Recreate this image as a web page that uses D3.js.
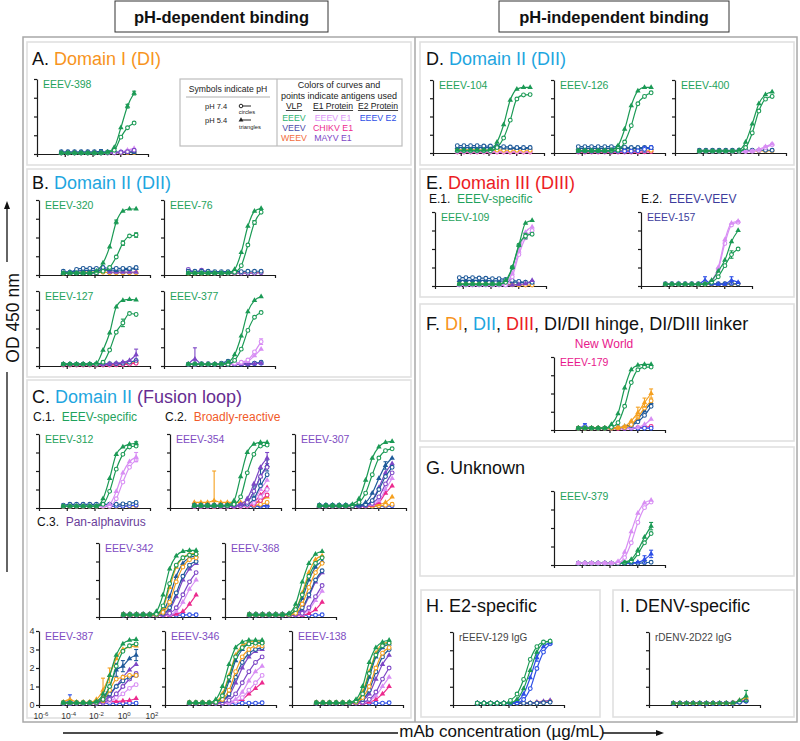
<!DOCTYPE html>
<html><head><meta charset="utf-8">
<script src="https://cdn.jsdelivr.net/npm/d3@7"></script>
<style>body{margin:0;background:#fff} svg{display:block;font-family:"Liberation Sans",Arial,Helvetica,sans-serif} text{white-space:pre}</style>
</head><body>
<svg id="fig" width="800" height="741"></svg>
<script>
// ---------------- DATA ----------------
// mAb concentrations (µg/mL), 3-fold dilutions, low -> high
const conc = [0.0000565, 0.000169, 0.000508, 0.00152, 0.00457, 0.0137, 0.0412, 0.123, 0.37, 1.11, 3.33, 10];
const xTicks = [1e-6, 1e-4, 1e-2, 1, 100];
const xTickExp = ["-6", "-4", "-2", "0", "2"];
const yTicks = [0, 1, 2, 3, 4];
const antigens = ["EEEV", "VEEV", "WEEV", "EEEV_E1", "CHIKV_E1", "MAYV_E1", "EEEV_E2"];

const eeev398 = [
 {ag:"WEEV",ph:"7.4",v:[0.06,0.06,0.06,0.06,0.06,0.06,0.06,0.06,0.06,0.07,0.08,0.08]},
 {ag:"VEEV",ph:"7.4",v:[0.12,0.12,0.12,0.12,0.12,0.12,0.13,0.11,0.11,0.11,0.12,0.12],e:{6:0.1}},
 {ag:"VEEV",ph:"5.4",v:[0.08,0.08,0.08,0.08,0.08,0.08,0.08,0.08,0.08,0.08,0.09,0.1]},
 {ag:"EEEV_E1",ph:"5.4",v:[0.05,0.05,0.05,0.05,0.05,0.05,0.05,0.05,0.08,0.12,0.2,0.3]},
 {ag:"MAYV_E1",ph:"7.4",v:[0.05,0.05,0.05,0.05,0.05,0.05,0.05,0.05,0.06,0.08,0.12,0.2]},
 {ag:"EEEV",ph:"7.4",v:[0.05,0.05,0.05,0.05,0.05,0.05,0.05,0.08,0.2,0.9,1.4,1.65]},
 {ag:"EEEV",ph:"5.4",v:[0.05,0.05,0.05,0.05,0.05,0.05,0.06,0.1,0.35,1.4,2.55,3.25],e:{11:0.1,10:0.1}}
];
const eeev320 = [
 {ag:"WEEV",ph:"7.4",v:[0.1,0.1,0.15,0.15,0.15,0.15,0.15,0.12,0.12,0.12,0.12,0.12]},
 {ag:"MAYV_E1",ph:"5.4",v:[0.08,0.08,0.1,0.1,0.1,0.1,0.4,0.15,0.15,0.15,0.15,0.15]},
 {ag:"VEEV",ph:"5.4",v:[0.15,0.15,0.2,0.25,0.25,0.25,0.28,0.28,0.25,0.28,0.3,0.35]},
 {ag:"VEEV",ph:"7.4",v:[0.2,0.15,0.3,0.35,0.35,0.35,0.4,0.35,0.35,0.35,0.35,0.4]},
 {ag:"EEEV",ph:"7.4",v:[0.1,0.1,0.1,0.1,0.1,0.12,0.2,0.4,0.96,1.7,2.08,2.13],e:{9:0.12,11:0.12}},
 {ag:"EEEV",ph:"5.4",v:[0.1,0.1,0.1,0.1,0.1,0.2,0.64,1.5,2.83,3.41,3.52,3.52],e:{8:0.1}}
];
const eeev76 = [
 {ag:"WEEV",ph:"7.4",v:[0.1,0.1,0.1,0.1,0.1,0.1,0.1,0.1,0.12,0.12,0.12,0.15]},
 {ag:"MAYV_E1",ph:"7.4",v:[0.3,0.15,0.25,0.15,0.1,0.1,0.1,0.1,0.1,0.1,0.1,0.12]},
 {ag:"VEEV",ph:"7.4",v:[0.2,0.2,0.2,0.2,0.18,0.18,0.18,0.18,0.18,0.2,0.2,0.2]},
 {ag:"EEEV",ph:"7.4",v:[0.1,0.1,0.1,0.1,0.1,0.1,0.1,0.15,0.5,1.6,2.8,3.35],e:{10:0.1}},
 {ag:"EEEV",ph:"5.4",v:[0.1,0.1,0.1,0.1,0.1,0.1,0.12,0.3,1.2,2.6,3.4,3.55]}
];
const eeev127 = [
 {ag:"WEEV",ph:"7.4",v:[0.08,0.08,0.08,0.08,0.08,0.08,0.08,0.08,0.1,0.12,0.15,0.2]},
 {ag:"CHIKV_E1",ph:"7.4",v:[0.05,0.05,0.05,0.05,0.05,0.05,0.05,0.05,0.06,0.08,0.1,0.15]},
 {ag:"VEEV",ph:"7.4",v:[0.1,0.1,0.1,0.1,0.1,0.1,0.1,0.12,0.12,0.15,0.2,0.3]},
 {ag:"MAYV_E1",ph:"5.4",v:[0.1,0.1,0.1,0.1,0.1,0.1,0.1,0.12,0.15,0.2,0.3,0.6],e:{11:0.3}},
 {ag:"EEEV",ph:"7.4",v:[0.1,0.1,0.1,0.1,0.1,0.1,0.2,0.85,1.8,2.3,2.8,2.75],e:{9:0.2}},
 {ag:"EEEV",ph:"5.4",v:[0.1,0.1,0.1,0.1,0.1,0.15,0.85,1.76,3.15,3.5,3.55,3.52]}
];
const eeev377 = [
 {ag:"EEEV_E2",ph:"7.4",v:[0.1,0.1,0.1,0.1,0.1,0.1,0.1,0.1,0.1,0.1,0.12,0.15]},
 {ag:"VEEV",ph:"7.4",v:[0.1,0.12,0.12,0.12,0.1,0.15,0.25,0.12,0.12,0.12,0.15,0.2]},
 {ag:"MAYV_E1",ph:"5.4",v:[0.1,0.37,0.1,0.1,0.1,0.1,0.1,0.1,0.1,0.1,0.12,0.15],e:{1:0.6}},
 {ag:"EEEV_E1",ph:"5.4",v:[0.1,0.1,0.1,0.1,0.1,0.1,0.1,0.12,0.15,0.25,0.55,0.9]},
 {ag:"EEEV_E1",ph:"7.4",v:[0.1,0.1,0.1,0.1,0.1,0.1,0.1,0.15,0.2,0.32,0.75,1.3],e:{11:0.15}},
 {ag:"EEEV",ph:"7.4",v:[0.1,0.1,0.1,0.1,0.1,0.1,0.1,0.3,0.9,1.9,2.6,2.85]},
 {ag:"EEEV",ph:"5.4",v:[0.1,0.1,0.1,0.1,0.1,0.1,0.2,0.6,1.6,2.9,3.5,3.7]}
];
const eeev312 = [
 {ag:"WEEV",ph:"7.4",v:[0.08,0.08,0.08,0.08,0.08,0.08,0.08,0.08,0.08,0.1,0.1,0.12]},
 {ag:"EEEV_E2",ph:"7.4",v:[0.1,0.1,0.1,0.1,0.1,0.1,0.1,0.1,0.1,0.1,0.12,0.15]},
 {ag:"VEEV",ph:"7.4",v:[0.15,0.2,0.2,0.2,0.2,0.2,0.2,0.2,0.2,0.22,0.25,0.3]},
 {ag:"EEEV_E1",ph:"7.4",v:[0.1,0.1,0.1,0.1,0.1,0.1,0.1,0.1,0.5,1.4,2.2,2.6]},
 {ag:"EEEV_E1",ph:"5.4",v:[0.1,0.1,0.1,0.1,0.1,0.1,0.1,0.2,0.9,1.9,2.5,2.75],e:{11:0.25}},
 {ag:"EEEV",ph:"7.4",v:[0.1,0.1,0.1,0.1,0.1,0.1,0.2,0.9,2.1,2.9,3.3,3.35]},
 {ag:"EEEV",ph:"5.4",v:[0.1,0.1,0.1,0.1,0.1,0.1,0.5,1.6,2.9,3.3,3.45,3.5],e:{11:0.08}}
];
const eeev354 = [
 {ag:"EEEV_E2",ph:"7.4",v:[0.1,0.1,0.1,0.1,0.1,0.1,0.1,0.1,0.1,0.1,0.1,0.1]},
 {ag:"EEEV_E2",ph:"5.4",v:[0.12,0.12,0.12,0.12,0.12,0.12,0.12,0.12,0.12,0.12,0.13,0.15]},
 {ag:"WEEV",ph:"7.4",v:[0.1,0.1,0.1,0.1,0.1,0.1,0.1,0.1,0.12,0.15,0.2,0.3]},
 {ag:"WEEV",ph:"5.4",v:[0.3,0.3,0.3,0.4,0.3,0.3,0.3,0.3,0.3,0.3,0.4,0.6],e:{3:1.6}},
 {ag:"CHIKV_E1",ph:"7.4",v:[0.08,0.08,0.08,0.08,0.08,0.08,0.08,0.08,0.1,0.2,0.4,0.7]},
 {ag:"CHIKV_E1",ph:"5.4",v:[0.08,0.08,0.08,0.08,0.08,0.08,0.08,0.1,0.15,0.3,0.7,1.1]},
 {ag:"EEEV_E1",ph:"7.4",v:[0.1,0.1,0.1,0.1,0.1,0.1,0.1,0.1,0.15,0.3,0.6,1.0]},
 {ag:"EEEV_E1",ph:"5.4",v:[0.1,0.1,0.1,0.1,0.1,0.1,0.1,0.1,0.15,0.4,1.0,1.5]},
 {ag:"VEEV",ph:"7.4",v:[0.15,0.15,0.15,0.15,0.15,0.15,0.15,0.15,0.2,0.5,1.2,1.8]},
 {ag:"VEEV",ph:"5.4",v:[0.15,0.15,0.15,0.15,0.15,0.15,0.15,0.15,0.3,0.9,1.7,2.3],e:{9:0.3,10:0.4,11:0.3}},
 {ag:"MAYV_E1",ph:"7.4",v:[0.1,0.1,0.1,0.1,0.1,0.1,0.1,0.15,0.3,0.9,1.7,2.2]},
 {ag:"MAYV_E1",ph:"5.4",v:[0.1,0.1,0.1,0.1,0.1,0.1,0.1,0.2,0.5,1.3,2.2,2.7],e:{11:0.3}},
 {ag:"EEEV",ph:"7.4",v:[0.12,0.12,0.12,0.12,0.12,0.12,0.2,0.6,1.9,2.9,3.35,3.4]},
 {ag:"EEEV",ph:"5.4",v:[0.12,0.12,0.12,0.12,0.12,0.15,0.4,1.7,3.0,3.45,3.55,3.55]}
];
const eeev307 = [
 {ag:"EEEV_E2",ph:"7.4",v:[0.1,0.1,0.1,0.1,0.1,0.1,0.1,0.1,0.1,0.1,0.1,0.12]},
 {ag:"WEEV",ph:"7.4",v:[0.1,0.1,0.1,0.1,0.1,0.1,0.1,0.1,0.1,0.12,0.15,0.2]},
 {ag:"WEEV",ph:"5.4",v:[0.1,0.1,0.1,0.1,0.1,0.1,0.1,0.1,0.12,0.18,0.3,0.6]},
 {ag:"CHIKV_E1",ph:"5.4",v:[0.08,0.08,0.08,0.08,0.08,0.08,0.08,0.1,0.15,0.3,0.8,1.2]},
 {ag:"EEEV_E1",ph:"5.4",v:[0.1,0.1,0.1,0.1,0.1,0.1,0.1,0.12,0.2,0.4,1.0,1.6]},
 {ag:"MAYV_E1",ph:"7.4",v:[0.1,0.1,0.1,0.1,0.1,0.1,0.1,0.12,0.25,0.6,1.3,1.9]},
 {ag:"MAYV_E1",ph:"5.4",v:[0.1,0.1,0.1,0.1,0.1,0.1,0.1,0.15,0.4,1.1,1.9,2.4]},
 {ag:"VEEV",ph:"7.4",v:[0.15,0.15,0.15,0.15,0.15,0.15,0.15,0.18,0.4,1.0,1.7,2.2]},
 {ag:"VEEV",ph:"5.4",v:[0.15,0.15,0.15,0.15,0.15,0.15,0.15,0.3,0.8,1.6,2.3,2.7],e:{10:0.2}},
 {ag:"EEEV",ph:"7.4",v:[0.12,0.12,0.12,0.12,0.12,0.12,0.3,0.8,1.8,2.7,3.1,3.2]},
 {ag:"EEEV",ph:"5.4",v:[0.12,0.12,0.12,0.12,0.12,0.2,0.5,1.5,2.7,3.3,3.55,3.6]}
];
const eeev342 = [
 {ag:"EEEV_E2",ph:"7.4",v:[0.1,0.1,0.1,0.1,0.1,0.1,0.1,0.1,0.1,0.1,0.12,0.12]},
 {ag:"CHIKV_E1",ph:"5.4",v:[0.08,0.08,0.08,0.08,0.08,0.08,0.08,0.1,0.15,0.3,0.7,1.2]},
 {ag:"EEEV_E1",ph:"5.4",v:[0.1,0.1,0.1,0.1,0.1,0.1,0.1,0.12,0.3,0.8,1.5,2.0]},
 {ag:"MAYV_E1",ph:"7.4",v:[0.1,0.1,0.1,0.1,0.1,0.1,0.12,0.2,0.5,1.2,1.9,2.4]},
 {ag:"MAYV_E1",ph:"5.4",v:[0.1,0.1,0.1,0.1,0.1,0.1,0.15,0.4,1.1,2.0,2.6,2.9]},
 {ag:"VEEV",ph:"7.4",v:[0.15,0.15,0.15,0.15,0.15,0.15,0.2,0.5,1.3,2.2,2.8,3.0]},
 {ag:"VEEV",ph:"5.4",v:[0.15,0.15,0.15,0.15,0.15,0.15,0.3,1.1,2.2,2.9,3.2,3.3]},
 {ag:"WEEV",ph:"7.4",v:[0.12,0.12,0.12,0.12,0.12,0.12,0.25,0.8,1.9,2.7,3.1,3.2]},
 {ag:"WEEV",ph:"5.4",v:[0.12,0.12,0.12,0.12,0.12,0.15,0.5,1.6,2.7,3.2,3.4,3.45]},
 {ag:"EEEV",ph:"7.4",v:[0.12,0.12,0.12,0.12,0.12,0.15,0.6,1.8,2.8,3.2,3.35,3.4]},
 {ag:"EEEV",ph:"5.4",v:[0.12,0.12,0.12,0.12,0.12,0.3,1.2,2.6,3.3,3.55,3.6,3.6]}
];
const eeev368 = [
 {ag:"EEEV_E2",ph:"7.4",v:[0.1,0.1,0.1,0.1,0.1,0.1,0.1,0.1,0.1,0.1,0.1,0.12]},
 {ag:"CHIKV_E1",ph:"5.4",v:[0.08,0.08,0.08,0.08,0.08,0.08,0.08,0.08,0.1,0.2,0.4,0.8]},
 {ag:"EEEV_E1",ph:"5.4",v:[0.1,0.1,0.1,0.1,0.1,0.1,0.1,0.1,0.15,0.4,0.9,1.4]},
 {ag:"MAYV_E1",ph:"7.4",v:[0.1,0.1,0.1,0.1,0.1,0.1,0.1,0.12,0.2,0.5,1.1,1.7]},
 {ag:"MAYV_E1",ph:"5.4",v:[0.1,0.1,0.1,0.1,0.1,0.1,0.1,0.15,0.4,1.1,1.9,2.4]},
 {ag:"VEEV",ph:"7.4",v:[0.15,0.15,0.15,0.15,0.15,0.15,0.15,0.2,0.5,1.2,2.0,2.5]},
 {ag:"VEEV",ph:"5.4",v:[0.15,0.15,0.15,0.15,0.15,0.15,0.15,0.3,1.0,2.0,2.7,3.0]},
 {ag:"WEEV",ph:"7.4",v:[0.12,0.12,0.12,0.12,0.12,0.12,0.12,0.2,0.7,1.6,2.4,2.9]},
 {ag:"WEEV",ph:"5.4",v:[0.12,0.12,0.12,0.12,0.12,0.12,0.15,0.4,1.3,2.4,3.1,3.3]},
 {ag:"EEEV",ph:"7.4",v:[0.12,0.12,0.12,0.12,0.12,0.12,0.15,0.4,1.2,2.2,2.9,3.2]},
 {ag:"EEEV",ph:"5.4",v:[0.12,0.12,0.12,0.12,0.12,0.12,0.2,0.7,1.9,2.9,3.4,3.55]}
];
const eeev387 = [
 {ag:"EEEV_E2",ph:"7.4",v:[0.1,0.2,0.1,0.1,0.1,0.1,0.1,0.1,0.1,0.1,0.1,0.1],e:{1:0.35}},
 {ag:"CHIKV_E1",ph:"5.4",v:[0.08,0.08,0.08,0.08,0.08,0.1,0.15,0.2,0.2,0.22,0.25,0.35]},
 {ag:"EEEV_E1",ph:"7.4",v:[0.1,0.1,0.1,0.1,0.1,0.1,0.12,0.2,0.4,0.6,0.9,1.1]},
 {ag:"EEEV_E1",ph:"5.4",v:[0.1,0.1,0.1,0.1,0.1,0.1,0.15,0.3,0.6,1.0,1.4,1.6]},
 {ag:"MAYV_E1",ph:"7.4",v:[0.1,0.1,0.1,0.1,0.1,0.1,0.15,0.3,0.6,1.0,1.4,1.7]},
 {ag:"MAYV_E1",ph:"5.4",v:[0.1,0.1,0.1,0.1,0.1,0.12,0.2,0.5,1.0,1.5,1.9,2.2]},
 {ag:"VEEV",ph:"7.4",v:[0.12,0.12,0.12,0.12,0.12,0.15,0.3,0.6,1.0,1.3,1.5,1.6]},
 {ag:"VEEV",ph:"5.4",v:[0.12,0.12,0.12,0.12,0.12,0.2,0.4,1.0,1.9,2.1,2.5,2.7],e:{8:0.35,9:0.3,11:0.3}},
 {ag:"WEEV",ph:"7.4",v:[0.12,0.12,0.12,0.12,0.12,0.15,0.3,0.8,1.4,1.5,1.6,1.6]},
 {ag:"WEEV",ph:"5.4",v:[0.15,0.3,0.15,0.15,0.15,0.3,0.8,1.6,2.5,3.0,3.15,3.2],e:{6:0.65,7:0.4}},
 {ag:"EEEV",ph:"7.4",v:[0.12,0.12,0.12,0.12,0.12,0.15,0.3,1.0,2.1,2.9,3.2,3.3]},
 {ag:"EEEV",ph:"5.4",v:[0.12,0.12,0.12,0.12,0.12,0.2,0.6,1.6,2.7,3.3,3.5,3.55]}
];
const eeev346 = [
 {ag:"EEEV_E2",ph:"7.4",v:[0.1,0.1,0.1,0.1,0.1,0.1,0.1,0.1,0.1,0.1,0.1,0.12]},
 {ag:"CHIKV_E1",ph:"5.4",v:[0.08,0.08,0.08,0.08,0.08,0.1,0.12,0.2,0.3,0.6,0.9,1.2]},
 {ag:"EEEV_E1",ph:"7.4",v:[0.1,0.1,0.1,0.1,0.1,0.1,0.12,0.2,0.4,0.8,1.2,1.6]},
 {ag:"EEEV_E1",ph:"5.4",v:[0.1,0.1,0.1,0.1,0.1,0.1,0.15,0.3,0.7,1.3,1.8,2.1]},
 {ag:"MAYV_E1",ph:"7.4",v:[0.1,0.1,0.1,0.1,0.1,0.12,0.25,0.6,1.2,1.8,2.3,2.6]},
 {ag:"MAYV_E1",ph:"5.4",v:[0.1,0.1,0.1,0.1,0.12,0.2,0.5,1.2,2.0,2.6,2.9,3.0]},
 {ag:"VEEV",ph:"7.4",v:[0.12,0.12,0.12,0.12,0.15,0.25,0.6,1.5,2.3,2.8,3.0,3.1]},
 {ag:"VEEV",ph:"5.4",v:[0.12,0.12,0.12,0.12,0.15,0.4,1.3,2.4,3.0,3.3,3.35,3.4]},
 {ag:"WEEV",ph:"7.4",v:[0.12,0.12,0.12,0.12,0.15,0.3,0.8,1.8,2.6,3.0,3.2,3.2]},
 {ag:"WEEV",ph:"5.4",v:[0.12,0.12,0.12,0.12,0.2,0.6,1.6,2.7,3.2,3.4,3.45,3.45]},
 {ag:"EEEV",ph:"7.4",v:[0.12,0.12,0.12,0.12,0.15,0.5,1.5,2.6,3.1,3.3,3.35,3.35]},
 {ag:"EEEV",ph:"5.4",v:[0.12,0.12,0.12,0.12,0.3,1.0,2.2,3.1,3.4,3.5,3.5,3.5]}
];
const eeev138 = [
 {ag:"EEEV_E2",ph:"7.4",v:[0.1,0.1,0.1,0.1,0.1,0.1,0.1,0.1,0.1,0.1,0.1,0.12]},
 {ag:"CHIKV_E1",ph:"5.4",v:[0.08,0.08,0.08,0.08,0.08,0.08,0.08,0.1,0.15,0.3,0.6,1.0]},
 {ag:"EEEV_E1",ph:"5.4",v:[0.1,0.1,0.1,0.1,0.1,0.1,0.1,0.12,0.25,0.5,1.0,1.5]},
 {ag:"MAYV_E1",ph:"7.4",v:[0.1,0.1,0.1,0.1,0.1,0.1,0.1,0.15,0.3,0.7,1.4,2.0]},
 {ag:"MAYV_E1",ph:"5.4",v:[0.1,0.1,0.1,0.1,0.1,0.1,0.12,0.25,0.6,1.4,2.2,2.7]},
 {ag:"VEEV",ph:"7.4",v:[0.12,0.12,0.12,0.12,0.12,0.12,0.15,0.3,0.8,1.8,2.6,3.0]},
 {ag:"VEEV",ph:"5.4",v:[0.12,0.12,0.12,0.12,0.12,0.12,0.2,0.5,1.5,2.6,3.1,3.3]},
 {ag:"WEEV",ph:"7.4",v:[0.12,0.12,0.12,0.12,0.12,0.12,0.15,0.4,1.0,2.0,2.8,3.1]},
 {ag:"WEEV",ph:"5.4",v:[0.12,0.12,0.12,0.12,0.12,0.12,0.2,0.7,1.8,2.8,3.3,3.4]},
 {ag:"EEEV",ph:"7.4",v:[0.12,0.12,0.12,0.12,0.12,0.12,0.2,0.6,1.7,2.7,3.2,3.35]},
 {ag:"EEEV",ph:"5.4",v:[0.12,0.12,0.12,0.12,0.12,0.15,0.3,1.0,2.3,3.1,3.4,3.5]}
];
const eeev104 = [
 {ag:"CHIKV_E1",ph:"7.4",v:[0.05,0.05,0.05,0.05,0.05,0.05,0.05,0.05,0.05,0.05,0.05,0.05]},
 {ag:"EEEV_E1",ph:"7.4",v:[0.08,0.08,0.08,0.08,0.08,0.08,0.08,0.08,0.08,0.08,0.08,0.08]},
 {ag:"WEEV",ph:"7.4",v:[0.18,0.17,0.17,0.17,0.16,0.16,0.16,0.15,0.15,0.15,0.15,0.15]},
 {ag:"VEEV",ph:"5.4",v:[0.3,0.3,0.3,0.3,0.3,0.3,0.3,0.28,0.26,0.25,0.25,0.28]},
 {ag:"VEEV",ph:"7.4",v:[0.4,0.4,0.4,0.4,0.38,0.38,0.36,0.35,0.33,0.3,0.3,0.3]},
 {ag:"EEEV",ph:"7.4",v:[0.12,0.12,0.12,0.12,0.12,0.12,0.3,0.82,1.8,2.96,3.18,3.2]},
 {ag:"EEEV",ph:"5.4",v:[0.15,0.15,0.15,0.15,0.15,0.2,0.6,1.55,2.9,3.5,3.6,3.6]}
];
const eeev126 = [
 {ag:"CHIKV_E1",ph:"7.4",v:[0.05,0.05,0.05,0.05,0.05,0.05,0.05,0.05,0.05,0.05,0.06,0.08]},
 {ag:"WEEV",ph:"7.4",v:[0.15,0.15,0.15,0.15,0.15,0.15,0.15,0.14,0.14,0.14,0.15,0.15]},
 {ag:"VEEV",ph:"5.4",v:[0.25,0.25,0.25,0.25,0.25,0.25,0.25,0.25,0.24,0.24,0.25,0.25]},
 {ag:"VEEV",ph:"7.4",v:[0.35,0.35,0.35,0.35,0.35,0.35,0.33,0.32,0.3,0.3,0.3,0.3]},
 {ag:"EEEV_E2",ph:"7.4",v:[0.1,0.1,0.1,0.1,0.1,0.1,0.1,0.1,0.1,0.12,0.2,0.3],e:{10:0.15}},
 {ag:"EEEV",ph:"7.4",v:[0.12,0.12,0.12,0.12,0.12,0.12,0.15,0.6,1.5,2.7,3.1,3.3]},
 {ag:"EEEV",ph:"5.4",v:[0.12,0.12,0.12,0.12,0.12,0.15,0.4,1.3,2.6,3.4,3.6,3.6]}
];
const eeev400 = [
 {ag:"WEEV",ph:"7.4",v:[0.12,0.12,0.12,0.12,0.12,0.12,0.12,0.12,0.12,0.12,0.12,0.12]},
 {ag:"VEEV",ph:"7.4",v:[0.15,0.15,0.15,0.15,0.15,0.15,0.15,0.15,0.15,0.15,0.15,0.15]},
 {ag:"EEEV_E1",ph:"7.4",v:[0.08,0.08,0.08,0.08,0.08,0.08,0.08,0.08,0.1,0.15,0.3,0.45]},
 {ag:"EEEV_E1",ph:"5.4",v:[0.08,0.08,0.08,0.08,0.08,0.08,0.08,0.08,0.1,0.2,0.35,0.5]},
 {ag:"EEEV",ph:"7.4",v:[0.1,0.1,0.1,0.1,0.1,0.1,0.1,0.3,1.1,2.3,2.95,3.1]},
 {ag:"EEEV",ph:"5.4",v:[0.1,0.1,0.1,0.1,0.1,0.1,0.15,0.6,1.6,2.7,3.2,3.35]}
];
const eeev109 = [
 {ag:"WEEV",ph:"7.4",v:[0.1,0.1,0.1,0.1,0.1,0.08,0.08,0.08,0.06,0.06,0.05,0.05]},
 {ag:"VEEV",ph:"5.4",v:[0.3,0.3,0.3,0.3,0.3,0.28,0.28,0.25,0.22,0.2,0.18,0.18]},
 {ag:"VEEV",ph:"7.4",v:[0.45,0.45,0.45,0.43,0.42,0.4,0.4,0.35,0.3,0.25,0.2,0.2]},
 {ag:"MAYV_E1",ph:"5.4",v:[0.05,0.05,0.05,0.05,0.05,0.05,0.05,0.05,0.05,0.08,0.12,0.3]},
 {ag:"EEEV_E1",ph:"7.4",v:[0.05,0.05,0.05,0.05,0.05,0.05,0.05,0.05,0.5,1.7,2.6,3.0]},
 {ag:"EEEV_E1",ph:"5.4",v:[0.05,0.05,0.05,0.05,0.05,0.05,0.05,0.15,0.7,1.9,2.9,3.2]},
 {ag:"EEEV",ph:"7.4",v:[0.1,0.1,0.1,0.1,0.1,0.1,0.1,0.2,1.0,2.2,2.7,2.8],e:{10:0.15}},
 {ag:"EEEV",ph:"5.4",v:[0.1,0.1,0.1,0.1,0.1,0.1,0.1,0.3,1.0,2.2,3.4,3.55]}
];
const eeev157 = [
 {ag:"WEEV",ph:"7.4",v:[0.1,0.1,0.1,0.1,0.1,0.1,0.1,0.1,0.1,0.1,0.1,0.12]},
 {ag:"VEEV",ph:"7.4",v:[0.12,0.12,0.12,0.12,0.12,0.12,0.12,0.12,0.12,0.12,0.12,0.12]},
 {ag:"EEEV_E2",ph:"5.4",v:[0.1,0.1,0.12,0.1,0.1,0.1,0.3,0.12,0.1,0.1,0.3,0.2],e:{6:0.2,10:0.2}},
 {ag:"EEEV_E1",ph:"7.4",v:[0.1,0.1,0.1,0.1,0.1,0.1,0.12,0.25,0.9,2.3,3.3,3.45]},
 {ag:"EEEV_E1",ph:"5.4",v:[0.1,0.1,0.1,0.1,0.1,0.1,0.12,0.3,1.0,2.5,3.4,3.5]},
 {ag:"EEEV",ph:"7.4",v:[0.1,0.1,0.1,0.1,0.1,0.1,0.1,0.2,0.5,1.1,1.7,2.0],e:{10:0.2}},
 {ag:"EEEV",ph:"5.4",v:[0.1,0.1,0.1,0.1,0.1,0.1,0.12,0.3,0.8,1.4,2.4,3.0]}
];
const eeev179 = [
 {ag:"CHIKV_E1",ph:"7.4",v:[0.08,0.08,0.08,0.08,0.08,0.08,0.08,0.08,0.1,0.12,0.15,0.2]},
 {ag:"EEEV_E2",ph:"7.4",v:[0.1,0.2,0.1,0.1,0.1,0.1,0.12,0.1,0.1,0.1,0.1,0.1],e:{1:0.15}},
 {ag:"EEEV_E1",ph:"5.4",v:[0.08,0.08,0.08,0.08,0.08,0.08,0.08,0.08,0.1,0.15,0.3,0.6]},
 {ag:"VEEV",ph:"7.4",v:[0.1,0.1,0.1,0.1,0.1,0.1,0.12,0.15,0.25,0.45,0.8,1.3]},
 {ag:"VEEV",ph:"5.4",v:[0.1,0.1,0.1,0.1,0.1,0.1,0.12,0.2,0.3,0.6,1.05,1.5]},
 {ag:"WEEV",ph:"7.4",v:[0.1,0.1,0.1,0.1,0.1,0.1,0.12,0.15,0.3,0.7,1.2,1.6]},
 {ag:"WEEV",ph:"5.4",v:[0.1,0.1,0.1,0.1,0.1,0.1,0.12,0.2,0.5,0.95,1.5,2.0],e:{9:0.3,10:0.25,11:0.25}},
 {ag:"EEEV",ph:"7.4",v:[0.1,0.1,0.1,0.1,0.1,0.15,0.4,1.3,2.6,3.3,3.45,3.45]},
 {ag:"EEEV",ph:"5.4",v:[0.1,0.1,0.1,0.1,0.1,0.3,0.9,2.3,3.3,3.55,3.6,3.6]}
];
const eeev379 = [
 {ag:"VEEV",ph:"7.4",v:[0.1,0.1,0.1,0.1,0.1,0.1,0.1,0.1,0.1,0.1,0.12,0.15]},
 {ag:"EEEV_E2",ph:"5.4",v:[0.1,0.1,0.1,0.1,0.1,0.1,0.1,0.1,0.12,0.15,0.3,0.6],e:{10:0.2,11:0.2}},
 {ag:"EEEV",ph:"7.4",v:[0.1,0.1,0.1,0.1,0.1,0.1,0.1,0.12,0.2,0.6,1.2,1.7]},
 {ag:"EEEV",ph:"5.4",v:[0.1,0.1,0.1,0.1,0.1,0.1,0.1,0.15,0.3,0.8,1.5,2.1],e:{11:0.2}},
 {ag:"EEEV_E1",ph:"7.4",v:[0.1,0.1,0.1,0.1,0.1,0.1,0.12,0.4,1.2,2.3,3.1,3.4]},
 {ag:"EEEV_E1",ph:"5.4",v:[0.1,0.1,0.1,0.1,0.1,0.1,0.2,0.7,1.8,2.8,3.35,3.5]}
];
const reeev129 = [
 {ag:"WEEV",ph:"7.4",v:[0.1,0.1,0.1,0.1,0.1,0.1,0.1,0.1,0.1,0.12,0.15,0.2]},
 {ag:"MAYV_E1",ph:"5.4",v:[0.1,0.1,0.1,0.1,0.1,0.1,0.1,0.1,0.12,0.15,0.2,0.25]},
 {ag:"VEEV",ph:"7.4",v:[0.1,0.1,0.1,0.1,0.1,0.1,0.1,0.1,0.1,0.1,0.12,0.15]},
 {ag:"EEEV_E2",ph:"7.4",v:[0.1,0.1,0.1,0.1,0.1,0.1,0.12,0.3,0.9,2.0,2.9,3.35]},
 {ag:"EEEV_E2",ph:"5.4",v:[0.1,0.1,0.1,0.1,0.1,0.1,0.2,0.6,1.5,2.6,3.2,3.4],e:{9:0.2}},
 {ag:"EEEV",ph:"5.4",v:[0.1,0.1,0.1,0.1,0.1,0.12,0.3,0.9,1.9,2.9,3.4,3.5]},
 {ag:"EEEV",ph:"7.4",v:[0.1,0.1,0.1,0.1,0.1,0.25,0.6,1.4,2.5,3.2,3.45,3.5]}
];
const rdenv2d22 = [
 {ag:"MAYV_E1",ph:"7.4",v:[0.1,0.1,0.1,0.1,0.1,0.1,0.1,0.1,0.1,0.12,0.2,0.25]},
 {ag:"EEEV_E2",ph:"7.4",v:[0.1,0.1,0.1,0.1,0.1,0.1,0.1,0.1,0.1,0.1,0.15,0.2]},
 {ag:"VEEV",ph:"7.4",v:[0.1,0.1,0.1,0.1,0.1,0.1,0.1,0.1,0.1,0.1,0.15,0.22]},
 {ag:"WEEV",ph:"5.4",v:[0.1,0.1,0.1,0.1,0.1,0.1,0.1,0.1,0.1,0.12,0.25,0.4]},
 {ag:"EEEV",ph:"5.4",v:[0.1,0.1,0.1,0.1,0.1,0.1,0.1,0.1,0.1,0.12,0.25,0.5],e:{11:0.3}}
];

// ---------------- STYLE / LAYOUT ----------------
const agColor = {EEEV:"#1b9a55", VEEV:"#1f5a9a", WEEV:"#f5a01f", EEEV_E1:"#d88ef4", CHIKV_E1:"#ec2a8e", MAYV_E1:"#7d47c6", EEEV_E2:"#2d4fe6"};
const C = {green:"#1fa25c", purple:"#7e4cc2", indigo:"#3d3d9c", magenta:"#e8188c", grey:"#444",
           orange:"#f7941d", blue:"#1ea6e0", red:"#ec1c24", fusion:"#662d91", broad:"#f15a29", pan:"#6a3d9a"};

const charts = [
 {d:eeev398, name:"EEEV-398", lc:C.green, x:37, y:79, h:75},
 {d:eeev320, name:"EEEV-320", lc:C.green, x:39, y:200, h:75},
 {d:eeev76,  name:"EEEV-76",  lc:C.green, x:164, y:200, h:75},
 {d:eeev127, name:"EEEV-127", lc:C.green, x:39, y:291, h:75},
 {d:eeev377, name:"EEEV-377", lc:C.green, x:164, y:291, h:75},
 {d:eeev312, name:"EEEV-312", lc:C.green, x:39, y:434, h:74},
 {d:eeev354, name:"EEEV-354", lc:C.purple, x:170, y:434, h:74},
 {d:eeev307, name:"EEEV-307", lc:C.purple, x:295, y:434, h:74},
 {d:eeev342, name:"EEEV-342", lc:C.purple, x:99, y:543, h:74},
 {d:eeev368, name:"EEEV-368", lc:C.purple, x:225, y:543, h:74},
 {d:eeev387, name:"EEEV-387", lc:C.purple, x:39, y:631, h:74, labels:true},
 {d:eeev346, name:"EEEV-346", lc:C.purple, x:165, y:631, h:74},
 {d:eeev138, name:"EEEV-138", lc:C.purple, x:292, y:631, h:74},
 {d:eeev104, name:"EEEV-104", lc:C.green, x:433, y:80, h:73},
 {d:eeev126, name:"EEEV-126", lc:C.green, x:554, y:80, h:73},
 {d:eeev400, name:"EEEV-400", lc:C.green, x:675, y:80, h:73},
 {d:eeev109, name:"EEEV-109", lc:C.green, x:435, y:212, h:74},
 {d:eeev157, name:"EEEV-157", lc:C.indigo, x:641, y:212, h:74},
 {d:eeev179, name:"EEEV-179", lc:C.magenta, x:554, y:357, h:73},
 {d:eeev379, name:"EEEV-379", lc:C.green, x:554, y:491, h:74},
 {d:reeev129, name:"rEEEV-129 IgG", lc:C.grey, x:453, y:632, h:73},
 {d:rdenv2d22, name:"rDENV-2D22 IgG", lc:C.grey, x:649, y:632, h:73}
];

// ---------------- DRAW ----------------
const svg = d3.select("#fig");
svg.append("rect").attr("width",800).attr("height",741).attr("fill","#fff");

// frames
const frame = svg.append("g").attr("fill","none");
frame.append("rect").attr("x",23).attr("y",37).attr("width",774).attr("height",685).attr("stroke","#a8a8a8").attr("stroke-width",1.5);
frame.append("line").attr("x1",415).attr("x2",415).attr("y1",37).attr("y2",722).attr("stroke","#a8a8a8").attr("stroke-width",1.5);
const panels = [[27,42,384,123],[27,169,384,208],[27,380,384,338],
                [420,42,374,123],[420,169,374,128],[420,304,374,137],[420,447,374,129],[421,590,179,127],[613,590,181,127]];
panels.forEach(p=>frame.append("rect").attr("x",p[0]).attr("y",p[1]).attr("width",p[2]).attr("height",p[3]).attr("stroke","#e0e0e0").attr("stroke-width",1.6));

// header boxes
function header(x,w,label){
  svg.append("rect").attr("x",x).attr("y",1).attr("width",w).attr("height",31).attr("fill","#fff").attr("stroke","#333").attr("stroke-width",1);
  svg.append("text").attr("x",x+w/2).attr("y",23).attr("text-anchor","middle").attr("font-size",16.5).attr("font-weight","bold").attr("fill","#111").text(label);
}
header(115,213,"pH-dependent binding");
header(499,230,"pH-independent binding");

function rich(x,y,size,parts,anchor){
  const t = svg.append("text").attr("x",x).attr("y",y).attr("font-size",size).attr("text-anchor",anchor||"start");
  parts.forEach(([s,c])=>t.append("tspan").attr("fill",c).text(s));
  return t;
}
const K="#111";
rich(32,65,18,[["A. ",K],["Domain I (DI)",C.orange]]);
rich(32,189,18,[["B. ",K],["Domain II (DII)",C.blue]]);
rich(32,403,18,[["C. ",K],["Domain II ",C.blue],["(Fusion loop)",C.fusion]]);
rich(33,421,12,[["C.1.  ",K],["EEEV-specific",C.green]]);
rich(165,421,12,[["C.2.  ",K],["Broadly-reactive",C.broad]]);
rich(37,526,12,[["C.3.  ",K],["Pan-alphavirus",C.pan]]);
rich(426,65,18,[["D. ",K],["Domain II (DII)",C.blue]]);
rich(426,189,18,[["E. ",K],["Domain III (DIII)",C.red]]);
rich(429,203,12,[["E.1.  ",K],["EEEV-specific",C.green]]);
rich(641,203,12,[["E.2.  ",K],["EEEV-VEEV",C.indigo]]);
rich(426,330,18,[["F. ",K],["DI",C.orange],[", ",K],["DII",C.blue],[", ",K],["DIII",C.red],[", DI/DII hinge, DI/DIII linker",K]]);
rich(604,348,12,[["New World",C.magenta]],"middle");
rich(426,474,18,[["G. Unknown",K]]);
rich(426,612,18,[["H. E2-specific",K]]);
rich(620,612,18,[["I. DENV-specific",K]]);

// axis titles
svg.append("text").attr("transform","translate(19,318) rotate(-90)").attr("text-anchor","middle").attr("font-size",17.5).attr("fill","#111").text("OD 450 nm");
svg.append("line").attr("x1",7).attr("x2",7).attr("y1",262).attr("y2",207).attr("stroke","#111").attr("stroke-width",1.3);
svg.append("path").attr("d","M7,201 L4,209 L10,209 Z").attr("fill","#111");
svg.append("line").attr("x1",7).attr("x2",7).attr("y1",372).attr("y2",572).attr("stroke","#111").attr("stroke-width",1.3);
svg.append("text").attr("x",502).attr("y",737).attr("text-anchor","middle").attr("font-size",17).attr("fill","#111").text("mAb concentration (µg/mL)");
svg.append("line").attr("x1",63).attr("x2",398).attr("y1",733).attr("y2",733).attr("stroke","#111").attr("stroke-width",1.3);
svg.append("line").attr("x1",603).attr("x2",657).attr("y1",733).attr("y2",733).attr("stroke","#111").attr("stroke-width",1.3);
svg.append("path").attr("d","M664,733 L656,730 L656,736 Z").attr("fill","#111");

// legend
const lg = svg.append("g");
lg.append("rect").attr("x",180).attr("y",79).attr("width",222).attr("height",67).attr("fill","#fff").attr("stroke","#bdbdbd").attr("stroke-width",1.2);
lg.append("line").attr("x1",277).attr("x2",277).attr("y1",79).attr("y2",146).attr("stroke","#bdbdbd").attr("stroke-width",1.2);
lg.append("text").attr("x",228).attr("y",92).attr("text-anchor","middle").attr("font-size",8.6).attr("fill","#222").text("Symbols indicate pH");
lg.append("line").attr("x1",186).attr("x2",270).attr("y1",97).attr("y2",97).attr("stroke","#999").attr("stroke-width",0.8);
lg.append("text").attr("x",205).attr("y",109).attr("font-size",7.5).attr("fill","#222").text("pH 7.4");
lg.append("text").attr("x",205).attr("y",123).attr("font-size",7.5).attr("fill","#222").text("pH 5.4");
lg.append("line").attr("x1",241).attr("x2",251).attr("y1",106).attr("y2",106).attr("stroke","#222").attr("stroke-width",1);
lg.append("circle").attr("cx",241).attr("cy",106).attr("r",1.8).attr("fill","#fff").attr("stroke","#222").attr("stroke-width",1);
lg.append("text").attr("x",247).attr("y",114).attr("text-anchor","middle").attr("font-size",5.8).attr("fill","#222").text("circles");
lg.append("line").attr("x1",241).attr("x2",251).attr("y1",120).attr("y2",120).attr("stroke","#222").attr("stroke-width",1);
lg.append("path").attr("d",d3.symbol(d3.symbolTriangle,10)()).attr("transform","translate(241,120)").attr("fill","#222");
lg.append("text").attr("x",250).attr("y",129).attr("text-anchor","middle").attr("font-size",5.8).attr("fill","#222").text("triangles");
lg.append("text").attr("x",339).attr("y",88).attr("text-anchor","middle").attr("font-size",9).attr("fill","#222").text("Colors of curves and");
lg.append("text").attr("x",339).attr("y",99).attr("text-anchor","middle").attr("font-size",9).attr("fill","#222").text("points indicate antigens used");
[["VLP",294],["E1 Protein",333],["E2 Protein",378]].forEach(([t,cx])=>{
  const tx = lg.append("text").attr("x",cx).attr("y",109).attr("text-anchor","middle").attr("font-size",8.6).attr("fill","#222").attr("text-decoration","underline").text(t);
});
const legendCols = [
  [["EEEV","#2fb36f"],["VEEV","#4b4ba8"],["WEEV","#f26d3d"]],
  [["EEEV E1","#dd95f7"],["CHIKV E1","#ec2a8e"],["MAYV E1","#7d47c6"]],
  [["EEEV E2","#2d4fe6"]]
];
[294,333,378].forEach((cx,ci)=>legendCols[ci].forEach(([t,c],ri)=>{
  lg.append("text").attr("x",cx).attr("y",121+ri*10).attr("text-anchor","middle").attr("font-size",8.8).attr("fill",c).text(t);
}));

// mini charts
const W = 111;
charts.forEach(spec=>{
  const x = d3.scaleLog().domain([1e-6,100]).range([0,W]);
  const y = d3.scaleLinear().domain([0,4]).range([spec.h,0]);
  const g = svg.append("g").attr("transform",`translate(${spec.x},${spec.y})`);
  const xa = g.append("g").attr("transform",`translate(0,${spec.h})`)
     .call(d3.axisBottom(x).tickValues(xTicks).tickSize(3).tickSizeOuter(0).tickFormat(""));
  const ya = g.append("g").call(d3.axisLeft(y).tickValues(yTicks).tickSize(3).tickSizeOuter(0).tickFormat(spec.labels? d3.format("d") : ""));
  [xa,ya].forEach(a=>{a.selectAll("path,line").attr("stroke","#1a1a1a").attr("stroke-width",1.2); a.selectAll("text").attr("font-size",9).attr("fill","#333").attr("font-family","Liberation Sans, Arial, sans-serif");});
  ya.selectAll("text").attr("x",-4.5);
  if(spec.labels){
    xTicks.forEach((t,i)=>{
      const tt = g.append("text").attr("x",x(t)+2).attr("y",spec.h+14).attr("text-anchor","middle").attr("font-size",8.6).attr("fill","#333");
      tt.append("tspan").text("10");
      tt.append("tspan").attr("dy",-3.5).attr("font-size",6).text(xTickExp[i]);
    });
  }
  const line = d3.line().x((d,i)=>x(conc[i])).y(d=>y(d)).curve(d3.curveMonotoneX);
  spec.d.forEach(s=>{
    const c = agColor[s.ag];
    g.append("path").attr("d",line(s.v)).attr("fill","none").attr("stroke",c).attr("stroke-width",1.2);
    if(s.e) Object.entries(s.e).forEach(([k,e])=>{
      const cx = x(conc[+k]), v = s.v[+k];
      const y1 = y(Math.max(0,v-e)), y2 = y(v+e);
      g.append("line").attr("x1",cx).attr("x2",cx).attr("y1",y1).attr("y2",y2).attr("stroke",c).attr("stroke-width",1.1);
      g.append("line").attr("x1",cx-2).attr("x2",cx+2).attr("y1",y2).attr("y2",y2).attr("stroke",c).attr("stroke-width",1.1);
      g.append("line").attr("x1",cx-2).attr("x2",cx+2).attr("y1",y1).attr("y2",y1).attr("stroke",c).attr("stroke-width",1.1);
    });
    s.v.forEach((v,i)=>{
      if(s.ph==="7.4"){
        g.append("circle").attr("cx",x(conc[i])).attr("cy",y(v)).attr("r",1.9).attr("fill","#fff").attr("stroke",c).attr("stroke-width",1.1);
      } else {
        g.append("path").attr("d",d3.symbol(d3.symbolTriangle,13)()).attr("transform",`translate(${x(conc[i])},${y(v)})`).attr("fill",c);
      }
    });
  });
  g.append("text").attr("x",6).attr("y",spec.name.length>9?9:9).attr("font-size",spec.name.length>9?10:10.5).attr("fill",spec.lc).text(spec.name);
});
</script>
</body></html>
